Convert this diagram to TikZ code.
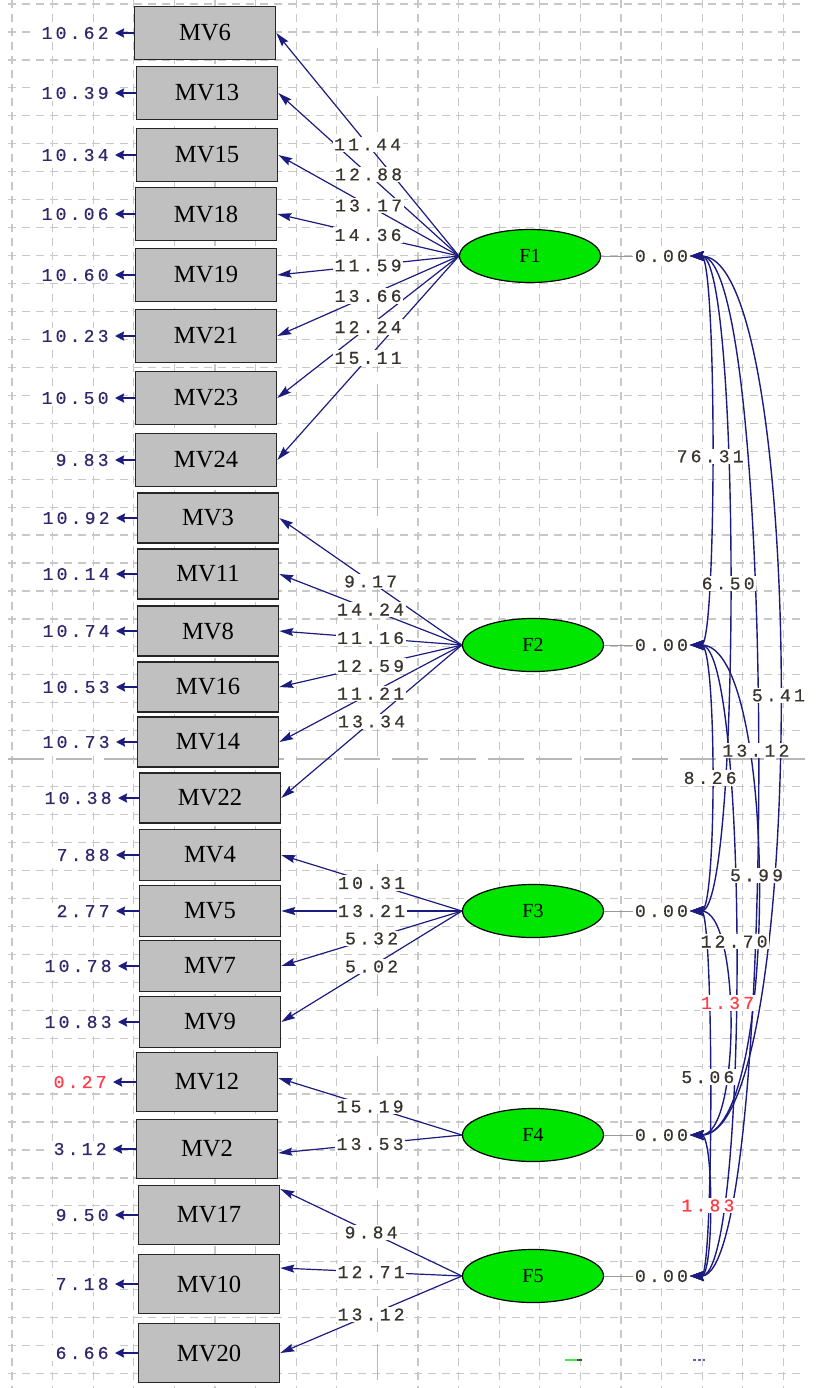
\documentclass[tikz,border=0pt]{standalone}
\usepackage{fontspec}
\setmainfont{Liberation Serif}
\newfontfamily\valfont[LetterSpace=18, FakeBold=0.6]{Liberation Mono}
\usepackage{xcolor}
\usetikzlibrary{arrows.meta, positioning, shapes.geometric}
\definecolor{pathblue}{RGB}{28,28,128}
\definecolor{boxgray}{RGB}{192,192,192}
\definecolor{latentgreen}{RGB}{0,230,0}
\definecolor{gridgray}{RGB}{200,200,200}
\definecolor{valgray}{RGB}{58,52,46}
\definecolor{errblue}{RGB}{50,38,108}
\definecolor{negred}{RGB}{255,60,72}
\tikzset{
    mvnode/.style = {draw=black!85, line width=0.8pt, rectangle, fill=boxgray, inner sep=0pt,
      minimum width=70.5pt, minimum height=26.5pt, node distance=0em, font=\fontsize{12.3}{14}\selectfont},
    latentnode/.style = {draw=black, line width=0.6pt, ellipse, fill=latentgreen, inner sep=0pt,
      minimum width=70.5pt, minimum height=26.5pt, node distance=0em, font=\fontsize{10}{12}\selectfont},
    textnode/.style = {fill=white, inner sep=0.8pt, node distance=0em, text=valgray,
      font=\valfont\fontsize{9}{10}\selectfont},
    errtextnode/.style = {textnode, text=errblue, inner xsep=3pt},
    rednode/.style = {text=negred},
    connect/.style = {pathblue, line width=0.6pt, -{Stealth[length=7pt, width=4pt, inset=1pt]}},
    errconnect/.style = {pathblue, line width=1.3pt, -{Stealth[length=4.5pt, width=4.5pt, inset=0.5pt]}},
    covconnect/.style = {pathblue, line width=0.7pt,
      {Stealth[length=7pt, width=5pt, inset=1pt]}-{Stealth[length=7pt, width=5pt, inset=1pt]}},
    fixline/.style = {black!40, line width=0.4pt},
    gridline/.style = {gridgray, line width=0.6pt, dash pattern=on 4pt off 3pt},
    majorgridline/.style = {gridgray!92!black, line width=0.9pt, dash pattern=on 18pt off 6pt}
}

\begin{document}
\begin{tikzpicture}[x=0.5pt, y=0.5pt]
\useasboundingbox (0,0) rectangle (817,-1388);
% grid
\foreach \k in {0,...,19} {\ifnum\k=9 \else \draw[gridline] ({12+40.6*\k},0) -- ({12+40.6*\k},-1388); \fi}
\foreach \k in {0,...,49} {\ifnum\k=27 \else \draw[gridline] (8,{-4-27.95*\k}) -- (805,{-4-27.95*\k}); \fi}
\draw[majorgridline] (377.4,0) -- (377.4,-1388);
\draw[majorgridline] (8,-758.6) -- (805,-758.6);

% observed variables
\node[mvnode, name=MV6] at (205,-33) {MV6};
\node[mvnode, name=MV13] at (207,-93) {MV13};
\node[mvnode, name=MV15] at (207,-155) {MV15};
\node[mvnode, name=MV18] at (206,-214) {MV18};
\node[mvnode, name=MV19] at (206,-275) {MV19};
\node[mvnode, name=MV21] at (206,-336) {MV21};
\node[mvnode, name=MV23] at (206,-398) {MV23};
\node[mvnode, name=MV24] at (206,-460) {MV24};
\node[mvnode, name=MV3, minimum height=25pt] at (208,-518) {MV3};
\node[mvnode, name=MV11, minimum height=25pt] at (208,-574) {MV11};
\node[mvnode, name=MV8, minimum height=25pt] at (208,-631) {MV8};
\node[mvnode, name=MV16, minimum height=25pt] at (208,-687) {MV16};
\node[mvnode, name=MV14, minimum height=25pt] at (208,-742) {MV14};
\node[mvnode, name=MV22, minimum height=25pt] at (210,-798) {MV22};
\node[mvnode, name=MV4, minimum height=25.5pt] at (210,-855) {MV4};
\node[mvnode, name=MV5, minimum height=25.5pt] at (210,-911) {MV5};
\node[mvnode, name=MV7, minimum height=25.5pt] at (210,-966) {MV7};
\node[mvnode, name=MV9, minimum height=25.5pt] at (210,-1022) {MV9};
\node[mvnode, name=MV12, minimum height=29.5pt] at (207,-1082) {MV12};
\node[mvnode, name=MV2, minimum height=29.5pt] at (207,-1149) {MV2};
\node[mvnode, name=MV17, minimum height=29.5pt] at (209,-1215) {MV17};
\node[mvnode, name=MV10, minimum height=29.5pt] at (209,-1284) {MV10};
\node[mvnode, name=MV20, minimum height=29.5pt] at (209,-1353) {MV20};

% error variances
\node[errtextnode, name=e6, left of = MV6, anchor=east, xshift=-45pt] {10.62};
\node[errtextnode, name=e13, left of = MV13, anchor=east, xshift=-46pt] {10.39};
\node[errtextnode, name=e15, left of = MV15, anchor=east, xshift=-46pt] {10.34};
\node[errtextnode, name=e18, left of = MV18, anchor=east, xshift=-45.5pt] {10.06};
\node[errtextnode, name=e19, left of = MV19, anchor=east, xshift=-45.5pt] {10.60};
\node[errtextnode, name=e21, left of = MV21, anchor=east, xshift=-45.5pt] {10.23};
\node[errtextnode, name=e23, left of = MV23, anchor=east, xshift=-45.5pt] {10.50};
\node[errtextnode, name=e24, left of = MV24, anchor=east, xshift=-45.5pt] {9.83};
\node[errtextnode, name=e3, left of = MV3, anchor=east, xshift=-46pt] {10.92};
\node[errtextnode, name=e11, left of = MV11, anchor=east, xshift=-46pt] {10.14};
\node[errtextnode, name=e8, left of = MV8, anchor=east, xshift=-46pt] {10.74};
\node[errtextnode, name=e16, left of = MV16, anchor=east, xshift=-46pt] {10.53};
\node[errtextnode, name=e14, left of = MV14, anchor=east, xshift=-46pt] {10.73};
\node[errtextnode, name=e22, left of = MV22, anchor=east, xshift=-46pt] {10.38};
\node[errtextnode, name=e4, left of = MV4, anchor=east, xshift=-47pt] {7.88};
\node[errtextnode, name=e5, left of = MV5, anchor=east, xshift=-47pt] {2.77};
\node[errtextnode, name=e7, left of = MV7, anchor=east, xshift=-46pt] {10.78};
\node[errtextnode, name=e9, left of = MV9, anchor=east, xshift=-46pt] {10.83};
\node[errtextnode, rednode, name=e12, left of = MV12, anchor=east, xshift=-47pt] {0.27};
\node[errtextnode, name=e2, left of = MV2, anchor=east, xshift=-47pt] {3.12};
\node[errtextnode, name=e17, left of = MV17, anchor=east, xshift=-47pt] {9.50};
\node[errtextnode, name=e10, left of = MV10, anchor=east, xshift=-47pt] {7.18};
\node[errtextnode, name=e20, left of = MV20, anchor=east, xshift=-47pt] {6.66};
\foreach \i in {6,13,15,18,19,21,23,24,3,11,8,16,14,22,4,5,7,9,12,2,17,10,20}
    \draw[errconnect] (MV\i.west) -- (e\i.east);

% latent variables
\node[latentnode, name=F1] at (530,-256) {F1};
\node[latentnode, name=F2] at (533,-645) {F2};
\node[latentnode, name=F3] at (533,-911) {F3};
\node[latentnode, name=F4] at (533,-1135) {F4};
\node[latentnode, name=F5] at (533,-1276) {F5};
\node[textnode, name=v1, right of = F1, anchor=west, xshift=51.5pt] {0.00};
\node[textnode, name=v2, right of = F2, anchor=west, xshift=50pt] {0.00};
\node[textnode, name=v3, right of = F3, anchor=west, xshift=50pt] {0.00};
\node[textnode, name=v4, right of = F4, anchor=west, xshift=50pt] {0.00};
\node[textnode, name=v5, right of = F5, anchor=west, xshift=50pt] {0.00};
\foreach \i in {1,...,5}
    \draw[fixline] (F\i.east) -- (v\i.west);

% loadings
\draw[connect] (F1.west) -- coordinate[pos=0.5] (m6) (MV6.east);
\draw[connect] (F1.west) -- coordinate[pos=0.5] (m13) (MV13.east);
\draw[connect] (F1.west) -- coordinate[pos=0.5] (m15) (MV15.east);
\draw[connect] (F1.west) -- coordinate[pos=0.5] (m18) (MV18.east);
\draw[connect] (F1.west) -- coordinate[pos=0.5] (m19) (MV19.east);
\draw[connect] (F1.west) -- coordinate[pos=0.5] (m21) (MV21.east);
\draw[connect] (F1.west) -- coordinate[pos=0.5] (m23) (MV23.east);
\draw[connect] (F1.west) -- coordinate[pos=0.5] (m24) (MV24.east);
\draw[connect] (F2.west) -- coordinate[pos=0.5] (m3) (MV3.east);
\draw[connect] (F2.west) -- coordinate[pos=0.5] (m11) (MV11.east);
\draw[connect] (F2.west) -- coordinate[pos=0.5] (m8) (MV8.east);
\draw[connect] (F2.west) -- coordinate[pos=0.5] (m16) (MV16.east);
\draw[connect] (F2.west) -- coordinate[pos=0.5] (m14) (MV14.east);
\draw[connect] (F2.west) -- coordinate[pos=0.5] (m22) (MV22.east);
\draw[connect] (F3.west) -- coordinate[pos=0.5] (m4) (MV4.east);
\draw[connect] (F3.west) -- coordinate[pos=0.5] (m5) (MV5.east);
\draw[connect] (F3.west) -- coordinate[pos=0.5] (m7) (MV7.east);
\draw[connect] (F3.west) -- coordinate[pos=0.5] (m9) (MV9.east);
\draw[connect] (F4.west) -- coordinate[pos=0.5] (m12) ([yshift=2pt]MV12.east);
\draw[connect] (F4.west) -- coordinate[pos=0.5] (m2) ([yshift=-2pt]MV2.east);
\draw[connect] (F5.west) -- coordinate[pos=0.5] (m17) ([yshift=13pt]MV17.east);
\draw[connect] (F5.west) -- coordinate[pos=0.5] (m10) ([yshift=8pt]MV10.east);
\draw[connect] (F5.west) -- coordinate[pos=0.5] (m20) (MV20.east);

% covariances
\draw[covconnect] (v1.east) .. controls +(27,0) and +(27,0) .. coordinate[pos=0.51] (c12) (v2.east);
\draw[covconnect] (v1.east) .. controls +(51,0) and +(51,0) .. coordinate[pos=0.5] (c13) (v3.east);
\draw[covconnect] (v1.east) .. controls +(118,0) and +(118,0) .. coordinate[pos=0.5] (c14) (v4.east);
\draw[covconnect] (v1.east) .. controls +(88,0) and +(88,0) .. coordinate[pos=0.49] (c15) (v5.east);
\draw[covconnect] (v2.east) .. controls +(27,0) and +(27,0) .. coordinate[pos=0.5] (c23) (v3.east);
\draw[covconnect] (v2.east) .. controls +(89,0) and +(89,0) .. coordinate[pos=0.48] (c24) (v4.east);
\draw[covconnect] (v2.east) .. controls +(59,0) and +(59,0) .. coordinate[pos=0.48] (c25) (v5.east);
\draw[covconnect] (v3.east) .. controls +(51,0) and +(51,0) .. coordinate[pos=0.44] (c34) (v4.east);
\draw[covconnect] (v3.east) .. controls +(24,0) and +(24,0) .. coordinate[pos=0.47] (c35) (v5.east);
\draw[covconnect] (v4.east) .. controls +(24,0) and +(24,0) .. coordinate[pos=0.5] (c45) (v5.east);

% t-values
\node[textnode, name=t6] at (m6) {11.44};
\node[textnode, name=t13] at (m13) {12.88};
\node[textnode, name=t15] at (m15) {13.17};
\node[textnode, name=t18] at (m18) {14.36};
\node[textnode, name=t19] at (m19) {11.59};
\node[textnode, name=t21] at (m21) {13.66};
\node[textnode, name=t23] at (m23) {12.24};
\node[textnode, name=t24] at (m24) {15.11};
\node[textnode, name=t3] at (m3) {9.17};
\node[textnode, name=t11] at (m11) {14.24};
\node[textnode, name=t8] at (m8) {11.16};
\node[textnode, name=t16] at (m16) {12.59};
\node[textnode, name=t14] at (m14) {11.21};
\node[textnode, name=t22] at (m22) {13.34};
\node[textnode, name=t4] at (m4) {10.31};
\node[textnode, name=t5] at (m5) {13.21};
\node[textnode, name=t7] at (m7) {5.32};
\node[textnode, name=t9] at (m9) {5.02};
\node[textnode, name=t12] at (m12) {15.19};
\node[textnode, name=t2] at (m2) {13.53};
\node[textnode, name=t17] at (m17) {9.84};
\node[textnode, name=t10] at (m10) {12.71};
\node[textnode, name=t20] at (m20) {13.12};
\node[textnode, name=r12] at (c12) {76.31};
\node[textnode, name=r13] at (c13) {6.50};
\node[textnode, name=r14] at (c14) {5.41};
\node[textnode, name=r15] at (c15) {13.12};
\node[textnode, name=r23] at (c23) {8.26};
\node[textnode, name=r24] at (c24) {5.99};
\node[textnode, name=r25] at (c25) {12.70};
\node[textnode, rednode, name=r34] at (c34) {1.37};
\node[textnode, name=r35] at (c35) {5.06};
\node[textnode, rednode, name=r45] at (c45) {1.83};

% small marks at the bottom
\draw[latentgreen!75!white, line width=1.2pt] (565,-1360) -- (577,-1360);
\draw[black!70, line width=1.2pt] (577,-1360) -- (582,-1360);
\draw[pathblue!70, line width=1pt, dash pattern=on 1.5pt off 1pt] (693,-1360) -- (705,-1360);
\end{tikzpicture}
\end{document}
